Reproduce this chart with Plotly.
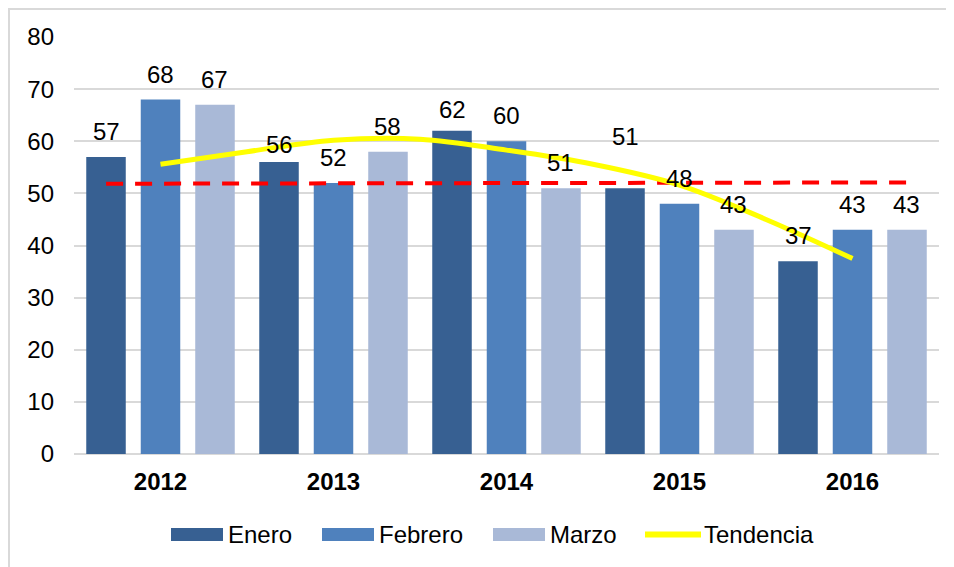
import plotly.graph_objects as go

# ---------------- data ----------------
years = ["2012", "2013", "2014", "2015", "2016"]
enero = [57, 56, 62, 51, 37]
febrero = [68, 52, 60, 48, 43]
marzo = [67, 58, 51, 43, 43]

# trend line at half-category steps (category index units)
trend_pos = [0, 0.5, 1, 1.5, 2, 2.5, 3, 3.5, 4]
trend_val = [55.6, 58.0, 60.2, 60.4, 58.3, 55.6, 51.6, 45.0, 37.5]

# red dashed reference line (start / end values)
ref_val = [51.85, 52.1]

y_ticks = [0, 10, 20, 30, 40, 50, 60, 70, 80]

# ---------------- style ----------------
FONT = "Arial, 'Liberation Sans', sans-serif"
FS = 24
C_ENE = "#376092"
C_FEB = "#4F81BD"
C_MAR = "#A9B9D7"
PAGE_OFF = 8                      # browser body margin
W, H = 954 - PAGE_OFF, 567 - PAGE_OFF
PL, PR, PT, PB = 74, 939, 37, 454  # plot area in page pixels
ML, MT = PL - PAGE_OFF, PT - PAGE_OFF
MR, MB = 954 - PR, 567 - PB
PW, PH = PR - PL, PB - PT
BAR_OFF = 0.3145  # offset of side bars from group centre in category units
LABEL_SHIFT = 10
# manually moved labels in the original: (month, year) -> vertical shift in px
LABEL_SHIFT_OVERRIDE = {("Enero", "2013"): 2, ("Enero", "2014"): 6, ("Enero", "2015"): 36}


def px2x(px):
    return (px - PL) / PW


def py2y(py):
    return (PB - py) / PH


fig = go.Figure()
for name, vals, col in [("Enero", enero, C_ENE), ("Febrero", febrero, C_FEB), ("Marzo", marzo, C_MAR)]:
    fig.add_trace(go.Bar(x=years, y=vals, name=name, marker=dict(color=col, line=dict(width=0)),
                         showlegend=False, hoverinfo="y"))

ref_pos = [0 - BAR_OFF, len(years) - 1 + BAR_OFF]
fig.add_trace(go.Scatter(x=ref_pos, y=ref_val, xaxis="x2", mode="lines",
                         line=dict(color="#FF0000", width=4, dash="17px,12px"), showlegend=False))
fig.add_trace(go.Scatter(x=trend_pos, y=trend_val, xaxis="x2", mode="lines", name="Tendencia",
                         line=dict(color="#FFFF00", width=5, shape="spline", smoothing=1.0),
                         showlegend=False))

# data labels
annotations = []
for month, off, vals in [("Enero", -BAR_OFF, enero), ("Febrero", 0, febrero), ("Marzo", BAR_OFF, marzo)]:
    for i, v in enumerate(vals):
        shift = LABEL_SHIFT_OVERRIDE.get((month, years[i]), LABEL_SHIFT)
        annotations.append(dict(x=i + off, y=v, xref="x2", yref="y", text=str(v), showarrow=False,
                                yanchor="bottom", xanchor="center", yshift=shift,
                                font=dict(family=FONT, size=FS, color="#000000")))

# custom legend
shapes = []
legend_items = [("Enero", C_ENE, 171, 226), ("Febrero", C_FEB, 322, 377), ("Marzo", C_MAR, 493, 548)]
for name, col, x0, tx in legend_items:
    shapes.append(dict(type="rect", xref="paper", yref="paper", x0=px2x(x0), x1=px2x(x0 + 52),
                       y0=py2y(541), y1=py2y(528), fillcolor=col, line=dict(width=0)))
    annotations.append(dict(x=px2x(tx), y=py2y(534.5), xref="paper", yref="paper", text=name,
                            showarrow=False, xanchor="left", yanchor="middle",
                            font=dict(family=FONT, size=FS, color="#000000")))
shapes.append(dict(type="line", xref="paper", yref="paper", x0=px2x(645), x1=px2x(701),
                   y0=py2y(534.5), y1=py2y(534.5), line=dict(color="#FFFF00", width=6)))
annotations.append(dict(x=px2x(702), y=py2y(534.5), xref="paper", yref="paper", text="Tendencia",
                        showarrow=False, xanchor="left", yanchor="middle",
                        font=dict(family=FONT, size=FS, color="#000000")))

# outer chart border
shapes.append(dict(type="rect", xref="paper", yref="paper", x0=px2x(9), x1=px2x(970),
                   y0=py2y(590), y1=py2y(9), line=dict(color="#D9D9D9", width=2),
                   fillcolor="rgba(0,0,0,0)", layer="below"))

fig.update_layout(
    width=W, height=H,
    margin=dict(l=ML, r=MR, t=MT, b=MB),
    paper_bgcolor="white", plot_bgcolor="white",
    barmode="group", bargap=0.055, bargroupgap=0.275,
    font=dict(family=FONT, size=FS, color="#000000"),
    xaxis=dict(type="category", categoryorder="array", categoryarray=years, range=[-0.5, 4.5],
               showgrid=False, zeroline=False, showline=False, ticks="",
               tickfont=dict(family=FONT, size=FS, color="#000000", weight="bold"),
               ticklabelstandoff=11),
    xaxis2=dict(overlaying="x", range=[-0.5, 4.5], visible=False, showgrid=False),
    yaxis=dict(range=[0, 80], tickvals=y_ticks, showgrid=True, gridcolor="#D9D9D9", gridwidth=1.5,
               zeroline=True, zerolinecolor="#D9D9D9", zerolinewidth=1.5, showline=False, ticks="",
               tickfont=dict(family=FONT, size=FS, color="#000000"), ticklabelstandoff=19),
    shapes=shapes,
    annotations=annotations,
)

fig.write_html("out.html")
